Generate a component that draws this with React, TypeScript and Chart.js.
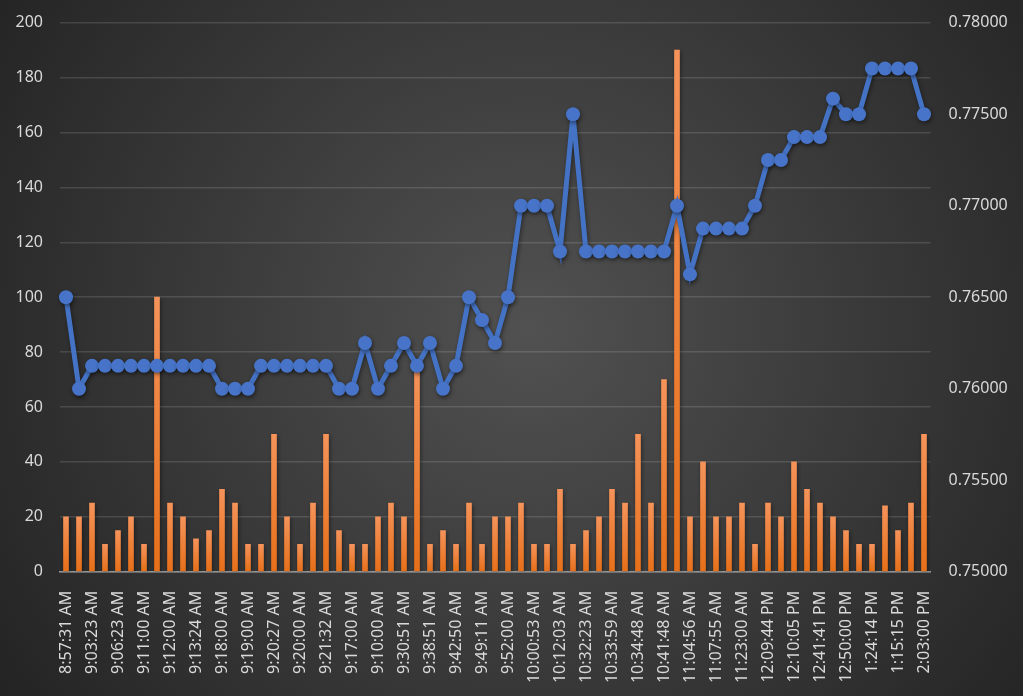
import { Chart, registerables } from "chart.js";
import { useEffect, useRef } from "react";

Chart.register(...registerables);

const times = [
    "8:57:31 AM", "9:01:10 AM", "9:03:23 AM", "9:05:00 AM", "9:06:23 AM", "9:09:12 AM",
    "9:11:00 AM", "9:11:30 AM", "9:12:00 AM", "9:12:45 AM", "9:13:24 AM", "9:15:00 AM",
    "9:18:00 AM", "9:18:30 AM", "9:19:00 AM", "9:19:45 AM", "9:20:27 AM", "9:20:10 AM",
    "9:20:00 AM", "9:21:00 AM", "9:21:32 AM", "9:18:00 AM", "9:17:00 AM", "9:14:00 AM",
    "9:10:00 AM", "9:25:00 AM", "9:30:51 AM", "9:35:00 AM", "9:38:51 AM", "9:40:00 AM",
    "9:42:50 AM", "9:45:00 AM", "9:49:11 AM", "9:50:30 AM", "9:52:00 AM", "9:56:00 AM",
    "10:00:53 AM", "10:05:00 AM", "10:12:03 AM", "10:20:00 AM", "10:32:23 AM", "10:33:10 AM",
    "10:33:59 AM", "10:34:20 AM", "10:34:48 AM", "10:38:00 AM", "10:41:48 AM", "10:55:00 AM",
    "11:04:56 AM", "11:06:00 AM", "11:07:55 AM", "11:15:00 AM", "11:23:00 AM", "11:45:00 AM",
    "12:09:44 PM", "12:09:55 PM", "12:10:05 PM", "12:25:00 PM", "12:41:41 PM", "12:45:00 PM",
    "12:50:00 PM", "1:05:00 PM", "1:24:14 PM", "1:20:00 PM", "1:15:15 PM", "1:40:00 PM",
    "2:03:00 PM",
];

// left axis (bars)
const volumes = [
    20, 20, 25, 10, 15, 20, 10, 100, 25, 20, 12, 15, 30, 25, 10, 10, 50, 20, 10, 25, 50,
    15, 10, 10, 20, 25, 20, 75, 10, 15, 10, 25, 10, 20, 20, 25, 10, 10, 30, 10, 15, 20, 30, 25, 50, 25,
    70, 190, 20, 40, 20, 20, 25, 10, 25, 20, 40, 30, 25, 20, 15, 10, 10, 24, 15, 25, 50,
];

// right axis (line)
const prices = [
    0.765, 0.76,
    0.76125, 0.76125, 0.76125, 0.76125, 0.76125, 0.76125, 0.76125, 0.76125, 0.76125, 0.76125,
    0.76, 0.76, 0.76,
    0.76125, 0.76125, 0.76125, 0.76125, 0.76125, 0.76125,
    0.76, 0.76, 0.7625, 0.76, 0.76125, 0.7625, 0.76125, 0.7625, 0.76, 0.76125, 0.765, 0.76375, 0.7625, 0.765,
    0.77, 0.77, 0.77, 0.7675, 0.775,
    0.7675, 0.7675, 0.7675, 0.7675, 0.7675, 0.7675, 0.7675,
    0.77, 0.76625, 0.76875, 0.76875, 0.76875, 0.76875,
    0.77, 0.7725, 0.7725, 0.77375, 0.77375, 0.77375, 0.77585, 0.775, 0.775,
    0.7775, 0.7775, 0.7775, 0.7775, 0.775,
];

const leftTicks = { min: 0, max: 200, step: 20 };
const rightTicks = { min: 0.75, max: 0.78, step: 0.005 };

const FONT = "'Noto Sans', sans-serif";
const TEXT = "#d9d9d9";

// plot box of the reference, in page pixels
const W = 1023;
const H = 696;
const AREA = { left: 59.5, right: 930.5, top: 22.7, bottom: 571.7 };

const backgroundPlugin = {
    id: "bg",
    beforeDraw(chart: any) {
        const { ctx, width, height } = chart;
        const g = ctx.createRadialGradient(530, 330, 0, 530, 330, 650);
        g.addColorStop(0, "#515151");
        g.addColorStop(1, "#232323");
        ctx.save();
        ctx.fillStyle = g;
        ctx.fillRect(0, 0, width, height);
        ctx.restore();
    },
};

const shadowPlugin = {
    id: "shadow",
    beforeDatasetDraw(chart: any) {
        const ctx = chart.ctx;
        ctx.save();
        ctx.shadowColor = "rgba(0,0,0,0.45)";
        ctx.shadowBlur = 4;
        ctx.shadowOffsetX = 1;
        ctx.shadowOffsetY = 2;
    },
    afterDatasetDraw(chart: any) {
        chart.ctx.restore();
    },
};

export default function App() {
    const canvasRef = useRef<HTMLCanvasElement>(null);

    useEffect(() => {
        if (!canvasRef.current) return;
        const chart = new Chart(canvasRef.current, {
            type: "bar",
            data: {
                labels: times,
                datasets: [
                    {
                        type: "line",
                        label: "Price",
                        data: prices,
                        yAxisID: "y1",
                        borderColor: "#4472C4",
                        borderWidth: 5,
                        pointRadius: 7,
                        pointBackgroundColor: "#4774C8",
                        pointBorderWidth: 0,
                        tension: 0,
                        order: 1,
                    },
                    {
                        type: "bar",
                        label: "Volume",
                        data: volumes,
                        yAxisID: "y",
                        barThickness: 5,
                        backgroundColor: (c: any) => {
                            const ch = c.chart;
                            if (!ch.chartArea || c.raw == null) return "#ED7D31";
                            const top = ch.scales.y.getPixelForValue(c.raw);
                            const bottom = ch.scales.y.getPixelForValue(0);
                            const g = ch.ctx.createLinearGradient(0, top, 0, bottom);
                            g.addColorStop(0, "#F5935A");
                            g.addColorStop(1, "#E76F18");
                            return g;
                        },
                        order: 2,
                    },
                ],
            } as any,
            options: {
                animation: false,
                responsive: true,
                maintainAspectRatio: false,
                layout: { padding: { left: 0, right: 0, top: AREA.top, bottom: 0 } },
                plugins: {
                    legend: { display: false },
                    tooltip: { enabled: false },
                },
                scales: {
                    x: {
                        grid: { display: false },
                        border: { display: true, color: "#999999", width: 1.5 },
                        afterFit: (s: any) => {
                            s.height = H - AREA.bottom;
                            s.paddingLeft = 0;
                            s.paddingRight = 0;
                        },
                        ticks: {
                            autoSkip: false,
                            maxRotation: 90,
                            minRotation: 90,
                            padding: 11,
                            color: TEXT,
                            font: { family: FONT, size: 16 },
                            callback: (_v: any, i: number) => (i % 2 === 0 ? times[i] : ""),
                        },
                    },
                    y: {
                        position: "left",
                        min: leftTicks.min,
                        max: leftTicks.max,
                        grid: { color: "rgba(255,255,255,0.13)", lineWidth: 1.5, drawTicks: false },
                        border: { display: false },
                        afterFit: (s: any) => {
                            s.width = AREA.left;
                            s.paddingTop = 0;
                            s.paddingBottom = 0;
                        },
                        ticks: {
                            stepSize: leftTicks.step,
                            padding: 16.5,
                            color: TEXT,
                            font: { family: FONT, size: 16 },
                        },
                    },
                    y1: {
                        position: "right",
                        min: rightTicks.min,
                        max: rightTicks.max,
                        grid: { display: false, drawTicks: false },
                        border: { display: false },
                        afterFit: (s: any) => {
                            s.width = W - AREA.right;
                            s.paddingTop = 0;
                            s.paddingBottom = 0;
                        },
                        ticks: {
                            stepSize: rightTicks.step,
                            padding: 18,
                            color: TEXT,
                            font: { family: FONT, size: 16 },
                            callback: (v: any) => Number(v).toFixed(5),
                        },
                    },
                },
            },
            plugins: [backgroundPlugin, shadowPlugin],
        });
        return () => chart.destroy();
    }, []);

    return (
        <div style={{ position: "fixed", left: 0, top: 0, width: W, height: H }}>
            <canvas ref={canvasRef} />
        </div>
    );
}
